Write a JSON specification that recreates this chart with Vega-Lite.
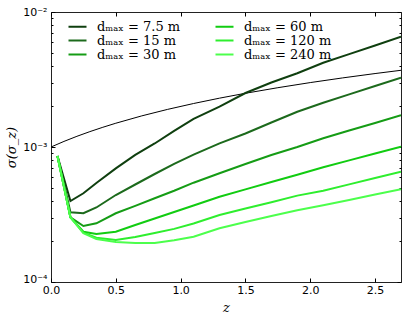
{
  "$schema": "https://vega.github.io/schema/vega-lite/v6.json",
  "width": 350,
  "height": 270,
  "autosize": {"type": "none"},
  "padding": {"left": 51, "top": 12, "right": 6, "bottom": 38},
  "config": {
    "view": {"stroke": "#222", "strokeWidth": 1},
    "axis": {"domain": false, "grid": false, "labelFont": "DejaVu Sans", "labelFontSize": 11, "labelColor": "#000", "tickColor": "#000", "titleColor": "#000", "labelFlush": false},
    "legend": {"orient": "none", "legendX": 20, "legendY": 8, "columns": 2, "title": null, "padding": 0,
      "symbolType": "M-2,0H2", "symbolSize": 81, "symbolStrokeWidth": 2, "labelFont": "DejaVu Serif", "labelFontSize": 13, "labelColor": "#000",
      "labelOffset": 13, "rowPadding": 0, "columnPadding": 30}
  },
  "datasets": {
    "b": [
      {"z": 0.0, "s": 0.00100}, {"z": 0.1, "s": 0.00110}, {"z": 0.2, "s": 0.00120}, {"z": 0.3, "s": 0.00130},
      {"z": 0.4, "s": 0.00140}, {"z": 0.5, "s": 0.00150}, {"z": 0.7, "s": 0.00170}, {"z": 0.9, "s": 0.00190},
      {"z": 1.1, "s": 0.00210}, {"z": 1.3, "s": 0.00230}, {"z": 1.5, "s": 0.00250}, {"z": 1.75, "s": 0.00275},
      {"z": 2.0, "s": 0.00300}, {"z": 2.25, "s": 0.00325}, {"z": 2.5, "s": 0.00350}, {"z": 2.7, "s": 0.00370}
    ],
    "g": [
      {"d": "7.5 m", "z": 0.05, "s": 0.000858}, {"d": "7.5 m", "z": 0.15, "s": 0.000398}, {"d": "7.5 m", "z": 0.25, "s": 0.000454},
      {"d": "7.5 m", "z": 0.35, "s": 0.000541}, {"d": "7.5 m", "z": 0.5, "s": 0.000695}, {"d": "7.5 m", "z": 0.65, "s": 0.000875},
      {"d": "7.5 m", "z": 0.8, "s": 0.001062}, {"d": "7.5 m", "z": 0.95, "s": 0.001318}, {"d": "7.5 m", "z": 1.1, "s": 0.001618},
      {"d": "7.5 m", "z": 1.3, "s": 0.001988}, {"d": "7.5 m", "z": 1.5, "s": 0.002512}, {"d": "7.5 m", "z": 1.7, "s": 0.003004},
      {"d": "7.5 m", "z": 1.9, "s": 0.003516}, {"d": "7.5 m", "z": 2.1, "s": 0.00421}, {"d": "7.5 m", "z": 2.3, "s": 0.004876},
      {"d": "7.5 m", "z": 2.5, "s": 0.005648}, {"d": "7.5 m", "z": 2.7, "s": 0.00656},

      {"d": "15 m", "z": 0.05, "s": 0.000858}, {"d": "15 m", "z": 0.15, "s": 0.0003284}, {"d": "15 m", "z": 0.25, "s": 0.0003229},
      {"d": "15 m", "z": 0.35, "s": 0.0003564}, {"d": "15 m", "z": 0.5, "s": 0.000441}, {"d": "15 m", "z": 0.65, "s": 0.0005275},
      {"d": "15 m", "z": 0.8, "s": 0.000631}, {"d": "15 m", "z": 0.95, "s": 0.000751}, {"d": "15 m", "z": 1.1, "s": 0.000877},
      {"d": "15 m", "z": 1.3, "s": 0.001065}, {"d": "15 m", "z": 1.5, "s": 0.001259}, {"d": "15 m", "z": 1.7, "s": 0.001519},
      {"d": "15 m", "z": 1.9, "s": 0.001823}, {"d": "15 m", "z": 2.1, "s": 0.002125}, {"d": "15 m", "z": 2.3, "s": 0.002453},
      {"d": "15 m", "z": 2.5, "s": 0.00283}, {"d": "15 m", "z": 2.7, "s": 0.003261},

      {"d": "30 m", "z": 0.05, "s": 0.000858}, {"d": "30 m", "z": 0.15, "s": 0.0003015}, {"d": "30 m", "z": 0.25, "s": 0.0002599},
      {"d": "30 m", "z": 0.35, "s": 0.0002722}, {"d": "30 m", "z": 0.5, "s": 0.0003229}, {"d": "30 m", "z": 0.65, "s": 0.0003667},
      {"d": "30 m", "z": 0.8, "s": 0.0004169}, {"d": "30 m", "z": 0.95, "s": 0.0004738}, {"d": "30 m", "z": 1.1, "s": 0.000544},
      {"d": "30 m", "z": 1.3, "s": 0.0006385}, {"d": "30 m", "z": 1.5, "s": 0.000748}, {"d": "30 m", "z": 1.7, "s": 0.000872},
      {"d": "30 m", "z": 1.9, "s": 0.001}, {"d": "30 m", "z": 2.1, "s": 0.00116}, {"d": "30 m", "z": 2.3, "s": 0.001325},
      {"d": "30 m", "z": 2.5, "s": 0.001508}, {"d": "30 m", "z": 2.7, "s": 0.001717},

      {"d": "60 m", "z": 0.05, "s": 0.000858}, {"d": "60 m", "z": 0.15, "s": 0.0003015}, {"d": "60 m", "z": 0.25, "s": 0.0002358},
      {"d": "60 m", "z": 0.35, "s": 0.0002267}, {"d": "60 m", "z": 0.5, "s": 0.0002358}, {"d": "60 m", "z": 0.65, "s": 0.0002644},
      {"d": "60 m", "z": 0.8, "s": 0.0002954}, {"d": "60 m", "z": 0.95, "s": 0.00033}, {"d": "60 m", "z": 1.1, "s": 0.0003687},
      {"d": "60 m", "z": 1.3, "s": 0.0004284}, {"d": "60 m", "z": 1.5, "s": 0.0004852}, {"d": "60 m", "z": 1.7, "s": 0.0005505},
      {"d": "60 m", "z": 1.9, "s": 0.0006234}, {"d": "60 m", "z": 2.1, "s": 0.000707}, {"d": "60 m", "z": 2.3, "s": 0.0007957},
      {"d": "60 m", "z": 2.5, "s": 0.000895}, {"d": "60 m", "z": 2.7, "s": 0.001005},

      {"d": "120 m", "z": 0.05, "s": 0.000858}, {"d": "120 m", "z": 0.15, "s": 0.0003015}, {"d": "120 m", "z": 0.25, "s": 0.0002319},
      {"d": "120 m", "z": 0.35, "s": 0.0002129}, {"d": "120 m", "z": 0.5, "s": 0.0002047}, {"d": "120 m", "z": 0.65, "s": 0.0002154},
      {"d": "120 m", "z": 0.8, "s": 0.0002307}, {"d": "120 m", "z": 0.95, "s": 0.0002474}, {"d": "120 m", "z": 1.1, "s": 0.0002713},
      {"d": "120 m", "z": 1.3, "s": 0.0003135}, {"d": "120 m", "z": 1.5, "s": 0.0003498}, {"d": "120 m", "z": 1.7, "s": 0.00039},
      {"d": "120 m", "z": 1.9, "s": 0.0004365}, {"d": "120 m", "z": 2.1, "s": 0.0004746}, {"d": "120 m", "z": 2.3, "s": 0.0005284},
      {"d": "120 m", "z": 2.5, "s": 0.0005884}, {"d": "120 m", "z": 2.7, "s": 0.000656},

      {"d": "240 m", "z": 0.05, "s": 0.000858}, {"d": "240 m", "z": 0.15, "s": 0.0003015}, {"d": "240 m", "z": 0.25, "s": 0.0002295},
      {"d": "240 m", "z": 0.35, "s": 0.0002082}, {"d": "240 m", "z": 0.5, "s": 0.0001979}, {"d": "240 m", "z": 0.65, "s": 0.0001945},
      {"d": "240 m", "z": 0.8, "s": 0.0001945}, {"d": "240 m", "z": 0.95, "s": 0.0002037}, {"d": "240 m", "z": 1.1, "s": 0.0002165},
      {"d": "240 m", "z": 1.3, "s": 0.0002499}, {"d": "240 m", "z": 1.5, "s": 0.0002778}, {"d": "240 m", "z": 1.7, "s": 0.0003087},
      {"d": "240 m", "z": 1.9, "s": 0.0003397}, {"d": "240 m", "z": 2.1, "s": 0.0003706}, {"d": "240 m", "z": 2.3, "s": 0.0004056},
      {"d": "240 m", "z": 2.5, "s": 0.0004441}, {"d": "240 m", "z": 2.7, "s": 0.0004861}
    ]
  },
  "layer": [
    {
      "data": {"name": "b"},
      "mark": {"type": "line", "color": "#000", "strokeWidth": 1, "clip": true},
      "encoding": {
        "x": {"field": "z", "type": "quantitative", "scale": {"domain": [0, 2.7], "nice": false, "zero": false},
          "axis": {"orient": "bottom", "values": [0, 0.5, 1, 1.5, 2, 2.5], "format": ".1f", "tickSize": -4, "labelPadding": 6,
            "title": "z", "titleFont": "DejaVu Serif", "titleFontStyle": "italic", "titleFontWeight": "normal", "titleFontSize": 13, "titlePadding": 6}},
        "y": {"field": "s", "type": "quantitative", "scale": {"type": "log", "domain": [0.0001, 0.01], "nice": false},
          "axis": {"orient": "left",
            "values": [0.0001, 0.0002, 0.0003, 0.0004, 0.0005, 0.0006, 0.0007, 0.0008, 0.0009, 0.001, 0.002, 0.003, 0.004, 0.005, 0.006, 0.007, 0.008, 0.009, 0.01],
            "labelExpr": "datum.value == 0.01 ? '10⁻²' : datum.value == 0.001 ? '10⁻³' : datum.value == 0.0001 ? '10⁻⁴' : ''",
            "tickSize": {"condition": {"test": "datum.value == 0.01 || datum.value == 0.001 || datum.value == 0.0001", "value": -4}, "value": -2},
            "labelOffset": {"condition": {"test": "datum.value == 0.0001", "value": -3}, "value": 0},
            "labelPadding": 8,
            "title": "σ(σ_z)", "titleFont": "DejaVu Serif", "titleFontStyle": "italic", "titleFontWeight": "normal", "titleFontSize": 13, "titlePadding": 4}}
      }
    },
    {
      "data": {"name": "g"},
      "mark": {"type": "line", "strokeWidth": 2, "clip": true},
      "encoding": {
        "x": {"field": "z", "type": "quantitative", "axis": {"orient": "top", "values": [0, 0.5, 1, 1.5, 2, 2.5], "labels": false, "tickSize": -4, "title": null}},
        "y": {"field": "s", "type": "quantitative",
          "axis": {"orient": "right", "labels": false, "title": null,
            "values": [0.0001, 0.0002, 0.0003, 0.0004, 0.0005, 0.0006, 0.0007, 0.0008, 0.0009, 0.001, 0.002, 0.003, 0.004, 0.005, 0.006, 0.007, 0.008, 0.009, 0.01],
            "tickSize": {"condition": {"test": "datum.value == 0.01 || datum.value == 0.001 || datum.value == 0.0001", "value": -4}, "value": -2}}},
        "color": {"field": "d", "type": "nominal",
          "scale": {"domain": ["7.5 m", "15 m", "30 m", "60 m", "120 m", "240 m"],
            "range": ["#0f3f0f", "#1c6a1c", "#159c15", "#11cc11", "#2eee2e", "#4cff4c"]},
          "legend": {"labelExpr": "'dₘₐₓ = ' + datum.label"}}
      }
    }
  ],
  "resolve": {"axis": {"x": "independent", "y": "independent"}}
}
